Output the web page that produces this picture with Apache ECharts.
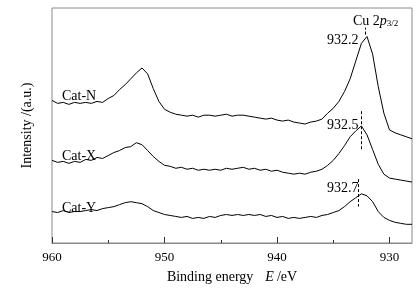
<!DOCTYPE html>
<html>
<head>
<meta charset="utf-8">
<script src="https://cdn.jsdelivr.net/npm/echarts@6/dist/echarts.min.js"></script>
<style>
  html, body { margin: 0; padding: 0; background: #fff; }
  #main { width: 418px; height: 289px; }
</style>
</head>
<body>
<div id="main"></div>
<script>
// binding energy, 960 -> 928 eV in 0.5 eV steps
var energy = [];
for (var e = 960; e >= 928; e -= 0.5) energy.push(e);

var catN = [145,142,143,141,143,142,143,142,144,143, 147,150,156,161,167,173,178,172,157,144,
            136,133,131,130,129,130,128,130,130,129, 130,131,129,130,130,129,128,127,126,127,
            125,124,125,123,122,121,123,124,126,132, 137,144,154,167,185,203,210,192,159,132,
            115,112,110,108,106];
var catX = [84,82,83,81,83,82,85,84,87,86, 89,92,94,97,98,102,100,94,88,83,
            79,78,76,77,75,76,74,75,74,75, 74,76,75,76,77,75,76,74,75,73,
            74,72,71,70,71,70,72,73,75,79, 84,91,99,108,114,119,110,95,80,70,
            66,65,64,63,62];
var catY = [32,31,33,31,32,32,33,34,33,35, 36,37,39,41,42,41,40,37,33,31,
            29,28,27,26,27,25,26,25,27,26, 28,29,28,29,28,29,28,29,27,28,
            26,27,25,26,25,26,27,26,28,29, 31,33,37,42,46,50,48,42,32,26,
            23,21,20,19,19];

var seriesNames = ['Cat-N', 'Cat-X', 'Cat-Y'];
var majorTicks = [930, 940, 950, 960];
var minorTicks = [935, 945, 955];
// peak markers: [energy, from, to]
var peakN = [932.2, 212, 219];
var peakX = [932.5, 134, 95];
var peakY = [932.75, 65, 37];
var peakLabels = ['932.2', '932.5', '932.7'];

function pairs(ys) {
    return energy.map(function (x, i) { return [x, ys[i]]; });
}

function dashMark(p) {
    return {
        silent: true,
        symbol: 'none',
        label: { show: false },
        lineStyle: { color: '#000', type: [3, 2], width: 1 },
        data: [[{ coord: [p[0], p[1]] }, { coord: [p[0], p[2]] }]]
    };
}

var font = 'Liberation Serif';
var chart = echarts.init(document.getElementById('main'));

var option = {
    animation: false,
    backgroundColor: '#fff',
    textStyle: { fontFamily: font, color: '#000' },
    grid: {
        left: 52, right: 6, top: 8, bottom: 42,
        show: true, borderColor: '#8a8a8a', borderWidth: 1, backgroundColor: 'transparent'
    },
    xAxis: [
        {
            type: 'value', min: 928, max: 960, inverse: true,
            name: '{n|Binding energy}    {i|E} {n|/eV}',
            nameLocation: 'middle', nameGap: 27,
            nameTextStyle: {
                rich: {
                    n: { fontFamily: font, fontSize: 14, color: '#000' },
                    i: { fontFamily: font, fontSize: 14, fontStyle: 'italic', color: '#000' }
                }
            },
            axisLine: { show: true, lineStyle: { color: '#8a8a8a' } },
            axisTick: { show: true, inside: true, length: 6, customValues: majorTicks, lineStyle: { color: '#333' } },
            axisLabel: { customValues: majorTicks, fontFamily: font, fontSize: 13, color: '#000', margin: 8 },
            splitLine: { show: false }
        },
        {
            type: 'value', min: 928, max: 960, inverse: true, position: 'bottom',
            axisLine: { show: false },
            axisTick: { show: true, inside: true, length: 3, customValues: minorTicks, lineStyle: { color: '#333' } },
            axisLabel: { show: false },
            splitLine: { show: false }
        }
    ],
    yAxis: {
        type: 'value', min: 0, max: 239,
        name: 'Intensity /(a.u.)', nameLocation: 'middle', nameGap: 18,
        nameTextStyle: { fontFamily: font, fontSize: 14, color: '#000' },
        axisLine: { show: false }, axisTick: { show: false },
        axisLabel: { show: false }, splitLine: { show: false }
    },
    series: [
        { name: seriesNames[0], type: 'line', data: pairs(catN), showSymbol: false,
          lineStyle: { color: '#000', width: 1 }, markLine: dashMark(peakN) },
        { name: seriesNames[1], type: 'line', data: pairs(catX), showSymbol: false,
          lineStyle: { color: '#000', width: 1 }, markLine: dashMark(peakX) },
        { name: seriesNames[2], type: 'line', data: pairs(catY), showSymbol: false,
          lineStyle: { color: '#000', width: 1 }, markLine: dashMark(peakY) }
    ],
    graphic: [
        { type: 'text', left: 62, top: 89, style: { text: seriesNames[0], font: '14px "Liberation Serif"', fill: '#000' } },
        { type: 'text', left: 62, top: 149, style: { text: seriesNames[1], font: '14px "Liberation Serif"', fill: '#000' } },
        { type: 'text', left: 62, top: 201, style: { text: seriesNames[2], font: '14px "Liberation Serif"', fill: '#000' } },
        { type: 'text', left: 327, top: 33, style: { text: peakLabels[0], font: '14px "Liberation Serif"', fill: '#000' } },
        { type: 'text', left: 327, top: 118, style: { text: peakLabels[1], font: '14px "Liberation Serif"', fill: '#000' } },
        { type: 'text', left: 327, top: 181, style: { text: peakLabels[2], font: '14px "Liberation Serif"', fill: '#000' } },
        { type: 'text', left: 353, top: 14, style: {
            text: '{n|Cu 2}{i|p}{s|3/2}',
            rich: {
                n: { fontFamily: font, fontSize: 14, fill: '#000' },
                i: { fontFamily: font, fontSize: 14, fontStyle: 'italic', fill: '#000' },
                s: { fontFamily: font, fontSize: 9, fill: '#000', verticalAlign: 'bottom', padding: [6, 0, 0, 0] }
            }
        } }
    ]
};
chart.setOption(option);
</script>
</body>
</html>
